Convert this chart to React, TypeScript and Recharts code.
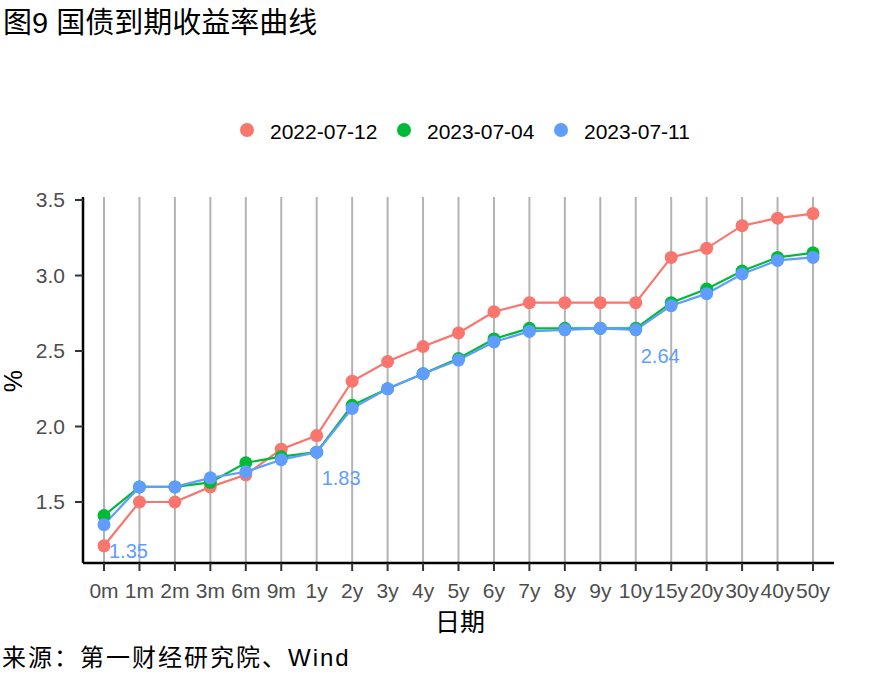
import React from 'react';
import { LineChart, Line, XAxis, YAxis, CartesianGrid, LabelList } from 'recharts';

const terms = ['0m', '1m', '2m', '3m', '6m', '9m', '1y', '2y', '3y', '4y', '5y', '6y', '7y', '8y', '9y', '10y', '15y', '20y', '30y', '40y', '50y'];
const y20220712 = [1.21, 1.5, 1.5, 1.6, 1.68, 1.85, 1.94, 2.3, 2.43, 2.53, 2.62, 2.76, 2.82, 2.82, 2.82, 2.82, 3.12, 3.18, 3.33, 3.38, 3.41];
const y20230704 = [1.41, 1.6, 1.6, 1.63, 1.76, 1.8, 1.83, 2.14, 2.25, 2.35, 2.45, 2.58, 2.65, 2.65, 2.65, 2.65, 2.82, 2.91, 3.03, 3.12, 3.15];
const y20230711 = [1.35, 1.6, 1.6, 1.66, 1.7, 1.78, 1.83, 2.12, 2.25, 2.35, 2.44, 2.56, 2.63, 2.64, 2.65, 2.64, 2.8, 2.88, 3.01, 3.1, 3.12];
const seriesNames = ['2022-07-12', '2023-07-04', '2023-07-11'];
const seriesKeys = ['s1', 's2', 's3'];
const colors = ['#F8766D', '#00BA38', '#619CFF'];
const yTicks = [1.5, 2.0, 2.5, 3.0, 3.5];
const labeledTerms = ['0m', '1y', '10y'];

const title = '图9 国债到期收益率曲线';
const xTitle = '日期';
const yTitle = '%';
const caption = '来源：第一财经研究院、Wind';

const data = terms.map((t, i) => ({
  term: t,
  s1: y20220712[i],
  s2: y20230704[i],
  s3: y20230711[i],
}));

const FONT = '"Liberation Sans", Arial, "Noto Sans CJK SC", sans-serif';

const renderValueLabel = (props: any) => {
  const { x, y, value, index } = props;
  if (!labeledTerms.includes(terms[index])) return null;
  return (
    <text x={x + 5} y={y + 33} fill={colors[2]} fontSize={20} fontFamily={FONT}>
      {Number(value).toFixed(2)}
    </text>
  );
};

export default function App() {
  const legendX = [247, 404, 561];
  return (
    <div style={{ position: 'absolute', left: 0, top: 0, width: 885, height: 688, background: '#fff', fontFamily: FONT }}>
      <LineChart width={885} height={688} data={data} margin={{ top: 197, right: 51, bottom: 85, left: 8 }}>
        <CartesianGrid
          horizontal={false}
          vertical={true}
          stroke="#B3B3B3"
          strokeWidth={2}
          syncWithTicks={true}
        />
        <XAxis
          dataKey="term"
          type="category"
          interval={0}
          padding={{ left: 21, right: 21 }}
          height={40}
          tickSize={8}
          tickMargin={12}
          axisLine={{ stroke: '#000', strokeWidth: 2.5 }}
          tickLine={{ stroke: '#333', strokeWidth: 2 }}
          tick={{ fill: '#4D4D4D', fontSize: 21, fontFamily: FONT }}
        />
        <YAxis
          type="number"
          domain={[1.096, 3.52]}
          allowDataOverflow
          ticks={yTicks}
          tickFormatter={(v: number) => v.toFixed(1)}
          width={75}
          tickSize={8}
          tickMargin={10}
          axisLine={{ stroke: '#000', strokeWidth: 2.5 }}
          tickLine={{ stroke: '#333', strokeWidth: 2 }}
          tick={{ fill: '#4D4D4D', fontSize: 21, fontFamily: FONT }}
        />
        {seriesKeys.map((k, i) => (
          <Line
            key={'p' + k}
            dataKey={k}
            type="linear"
            stroke="none"
            strokeWidth={0}
            dot={{ r: 6.5, fill: colors[i], stroke: 'none' }}
            activeDot={false}
            isAnimationActive={false}
            legendType="none"
          />
        ))}
        {seriesKeys.map((k, i) => (
          <Line
            key={'l' + k}
            dataKey={k}
            type="linear"
            stroke={colors[i]}
            strokeWidth={2.2}
            dot={false}
            activeDot={false}
            isAnimationActive={false}
            legendType="none"
          >
            {i === 2 ? <LabelList dataKey={k} content={renderValueLabel} /> : null}
          </Line>
        ))}
      </LineChart>
      <svg width={885} height={688} style={{ position: 'absolute', left: 0, top: 0, pointerEvents: 'none' }}>
        <text x={3} y={33} fontSize={29} fontFamily={FONT} fill="#000">{title}</text>
        {seriesNames.map((n, i) => (
          <g key={n}>
            <circle cx={legendX[i]} cy={130} r={7} fill={colors[i]} />
            <text x={legendX[i] + 23} y={139} fontSize={21} fontFamily={FONT} fill="#000">{n}</text>
          </g>
        ))}
        <text x={460} y={631} fontSize={25} textAnchor="middle" fontFamily={FONT} fill="#000">{xTitle}</text>
        <text x={22} y={381} fontSize={25} textAnchor="middle" fontFamily={FONT} fill="#000" transform="rotate(-90 22 381)">{yTitle}</text>
        <text x={2} y={666} fontSize={24} letterSpacing={2} fontFamily={FONT} fill="#000">{caption}</text>
      </svg>
    </div>
  );
}
